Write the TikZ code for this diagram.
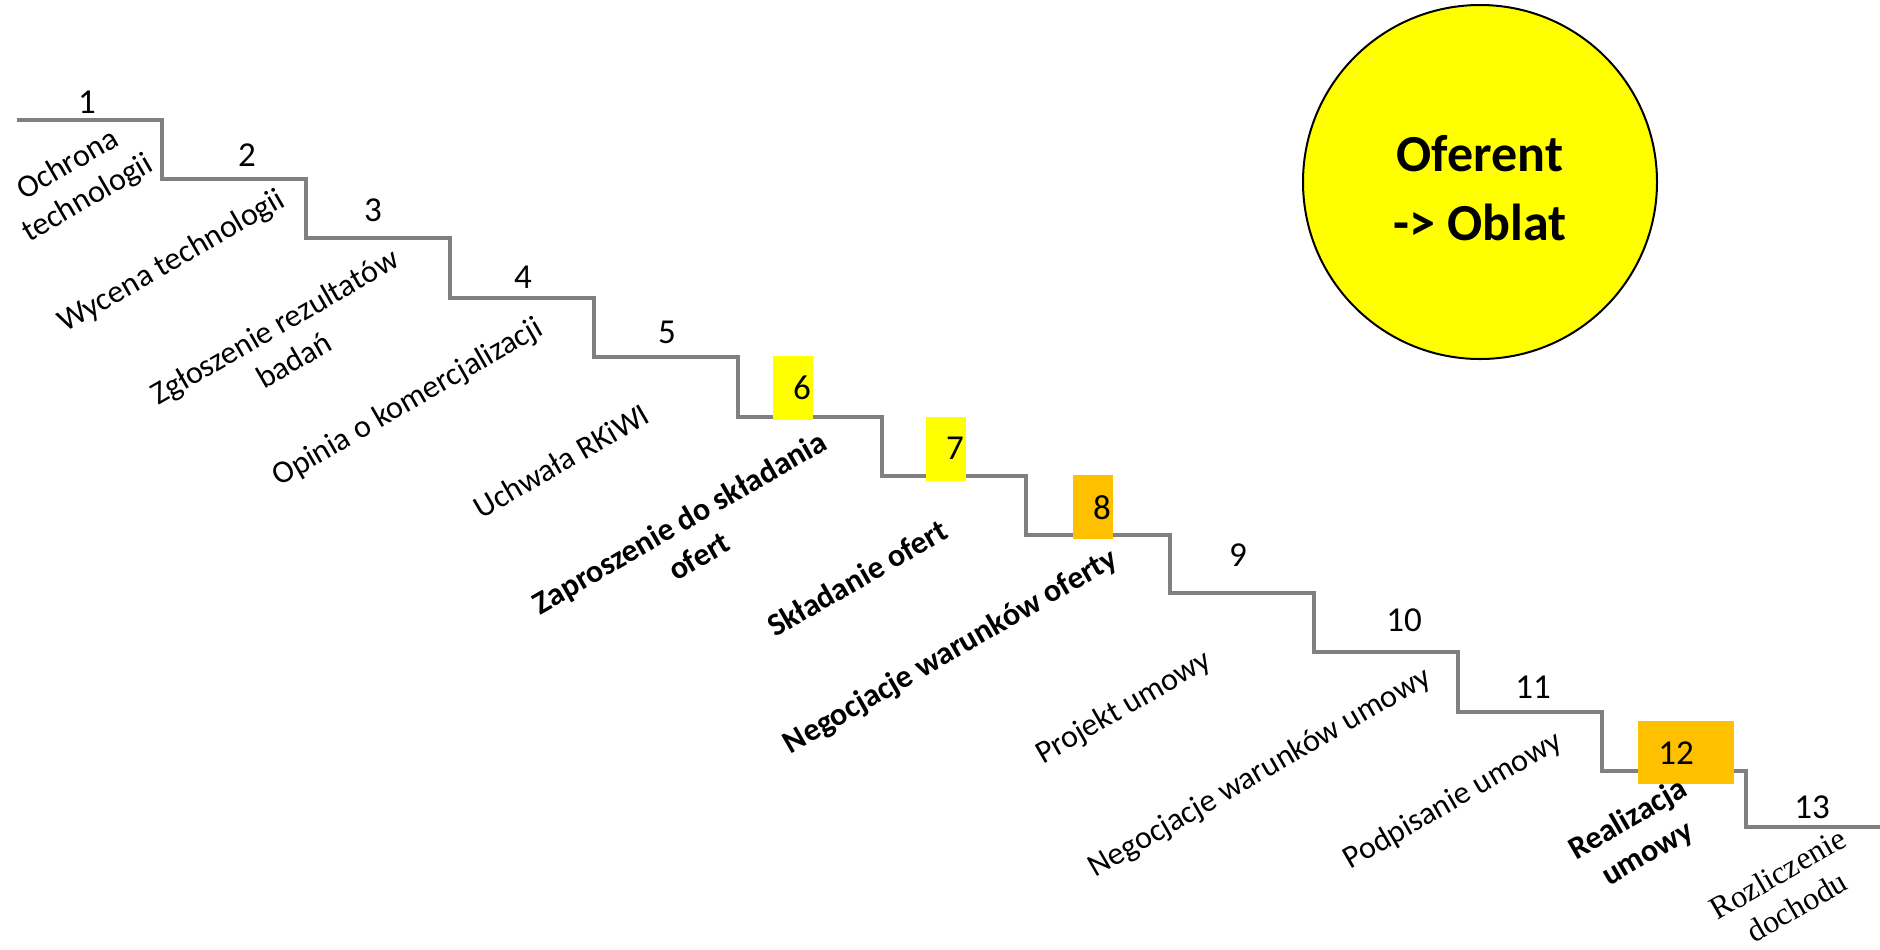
\documentclass[tikz,border=0pt]{standalone}
\usepackage{fontspec}
\setmainfont{Carlito}
\newfontfamily\serifrm{Liberation Serif}
\definecolor{stairgray}{HTML}{808080}
\definecolor{ylw}{HTML}{FFFF00}
\definecolor{orng}{HTML}{FFC000}
\tikzset{
  lbl/.style={font=\fontsize{16pt}{19.5pt}\selectfont, rotate=30, align=center, inner sep=0pt},
  lblb/.style={lbl, font=\fontsize{16pt}{19.5pt}\selectfont\bfseries},
  lbls/.style={lbl, font=\fontsize{16pt}{19pt}\selectfont\serifrm},
  num/.style={font=\fontsize{17.5pt}{20pt}\selectfont, inner sep=0pt},
  stair/.style={draw=stairgray, line width=1.75pt},
  badge/.style={inner sep=0pt, minimum width=20pt, minimum height=32pt},
}
\begin{document}
\begin{tikzpicture}[x=0.5pt,y=-0.5pt]
\useasboundingbox (0,0) rectangle (1880,949);

% staircase
\draw[stair] (17,120) -| (162,179) -| (306,238) -| (450,298) -| (594,357)
  -| (738,417) -| (882,476) -| (1026,535) -| (1170,593) -| (1314,652)
  -| (1458,712) -| (1602,771) -| (1746,827) -- (1880,827);

% highlighted boxes
\node[badge, fill=ylw] (b6) at (793,388) {};
\node[badge, fill=ylw] (b7) at (946,449) {};
\node[badge, fill=orng] (b8) at (1093,507) {};
\node[badge, fill=orng, minimum width=48pt, minimum height=31.5pt] (b12) at (1686,752.5) {};

% numbers
\node[num] (n1) at (87,102) {1};
\node[num] (n2) at (247,155) {2};
\node[num] (n3) at (373,210) {3};
\node[num] (n4) at (523,277) {4};
\node[num] (n5) at (667,332) {5};
\node[num] (n6) at (802,388) {6};
\node[num] (n7) at (955,448) {7};
\node[num] (n8) at (1102,508) {8};
\node[num] (n9) at (1238,555) {9};
\node[num] (n10) at (1404,620) {10};
\node[num] (n11) at (1533,687) {11};
\node[num] (n12) at (1676,753) {12};
\node[num] (n13) at (1812,807) {13};

% labels
\node[lbl] (l1) at (78,182) {Ochrona\\technologii};
\node[lbl] (l2) at (172,262) {Wycena technologii};
\node[lbl] (l3) at (284,343) {Zgłoszenie rezultatów\\badań};
\node[lbl] (l4) at (408,403) {Opinia o komercjalizacji};
\node[lbl] (l5) at (561,461) {Uchwała RKiWI};
\node[lblb] (l6) at (689,539) {Zaproszenie do składania\\ofert};
\node[lblb] (l7) at (857,578) {Składanie ofert};
\node[lblb] (l8) at (951,652) {Negocjacje warunków oferty};
\node[lbl] (l9) at (1124,708) {Projekt umowy};
\node[lbl] (l10) at (1260,773) {Negocjacje warunków umowy};
\node[lbl] (l11) at (1453,801) {Podpisanie umowy};
\node[lblb] (l12) at (1638,837) {Realizacja\\umowy};
\node[lbls] (l13) at (1787,890) {Rozliczenie\\dochodu};

% circle
\node[circle, draw=black, line width=1pt, fill=ylw, minimum size=177pt, inner sep=0pt] (who) at (1480,182) {};
\node[align=center, inner sep=0pt, font=\fontsize{26pt}{34.5pt}\selectfont\bfseries] (whotext) at (1480,188)
  {Oferent\\-> Oblat};
\end{tikzpicture}
\end{document}
